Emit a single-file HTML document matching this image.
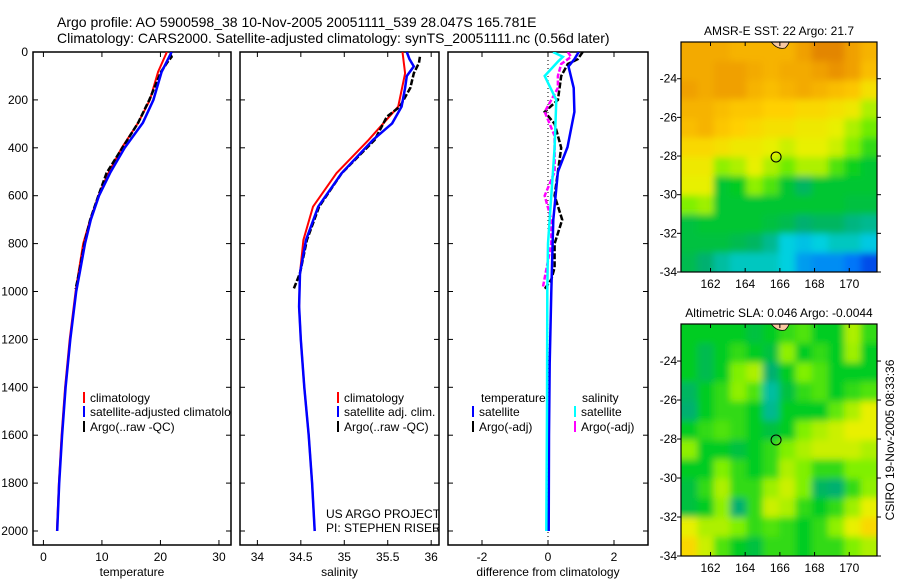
<!DOCTYPE html>
<html><head><meta charset="utf-8"><style>
html,body{margin:0;padding:0;background:#fff;}
svg{display:block;font-family:"Liberation Sans",sans-serif;}
</style></head><body>
<svg id="fig" width="900" height="580" viewBox="0 0 900 580" xmlns="http://www.w3.org/2000/svg">
<defs>
<filter id="soft" x="-5%" y="-5%" width="110%" height="110%"><feGaussianBlur stdDeviation="3.5"/></filter>
</defs>
<rect width="900" height="580" fill="#fff"/>
<text x="57" y="27" font-size="14">Argo profile: AO 5900598_38 10-Nov-2005 20051111_539 28.047S 165.781E</text>
<text x="57" y="43" font-size="14">Climatology: CARS2000. Satellite-adjusted climatology: synTS_20051111.nc (0.56d later)</text>
<g id="plots"></g>
</svg>
<script>
// ---- data ----
const tClimDepth = [0,83,200,295,400,505,600,700,800,922,1000,1200,1400,1600,1800,2000];
const tClim      = [21.1,19.6,18.2,16.2,13.4,11.1,9.4,8.0,6.8,6.0,5.5,4.5,3.7,3.1,2.65,2.3];
const tSatDepth  = [0,83,200,295,400,505,600,700,800,922,1000,1200,1400,1600,1800,2000];
const tSat       = [21.9,20.2,18.8,17.0,13.9,11.4,9.5,8.1,7.1,6.2,5.6,4.6,3.8,3.2,2.7,2.35];
const tArgoDepth = [10,20,42,83,200,295,400,505,600,700,800,922,990];
const tArgo      = [21.7,21.9,21.2,20.1,18.1,16.2,13.5,10.8,9.4,8.0,7.0,6.1,5.5];

const sClimDepth = [0,89,228,367,506,646,785,923,1063,1200,1400,1600,1800,2000];
const sClim      = [35.67,35.70,35.62,35.28,34.91,34.64,34.53,34.49,34.48,34.50,34.54,34.59,34.63,34.66];
const sSatDepth  = [0,30,60,100,150,228,298,367,506,646,785,923,1063,1200,1400,1600,1800,2000];
const sSat       = [35.72,35.75,35.80,35.72,35.70,35.66,35.55,35.33,34.97,34.70,34.56,34.49,34.48,34.50,34.54,34.59,34.63,34.66];
const sArgoDepth = [20,45,89,150,228,270,367,506,646,785,923,987];
const sArgo      = [35.87,35.86,35.80,35.76,35.64,35.49,35.35,34.97,34.71,34.57,34.49,34.42];

const dTSatDepth = [0,30,60,150,250,397,500,700,1000,1300,1600,2000];
const dTSat      = [0.93,0.80,0.62,0.78,0.80,0.59,0.30,0.16,0.10,0.05,0.03,0.02];
const dSSatDepth = [0,20,40,100,200,400,600,800,1000,1500,2000];
const dSSat      = [0.15,0.45,0.30,-0.10,0.25,0.20,0.10,0.00,-0.02,-0.03,-0.05];
const dTArgoDepth= [0,30,50,100,200,250,300,400,500,600,700,800,900,950,990];
const dTArgo     = [1.05,0.90,0.60,0.40,0.30,-0.10,0.20,0.40,0.30,0.20,0.43,0.20,0.20,0.10,-0.10];
const dSArgoDepth= [0,20,50,100,150,250,350,500,600,700,800,980];
const dSArgo     = [0.60,0.70,0.40,0.30,0.30,-0.10,0.20,0.20,-0.10,0.10,0.10,-0.15];

const depthTicks = [0,200,400,600,800,1000,1200,1400,1600,1800,2000];
const tTicks = [0,10,20,30];
const sTicks = [34,34.5,35,35.5,36];
const sTickLabels = ["34","34.5","35","35.5","36"];
const dTicks = [-2,0,2];

// map grids (colormap index 0..1), rows top (north) to bottom (south)
const sstRows = [
 [.78,.78,.78,.76,.76,.76,.76,.80,.84,.84,.80,.76],
 [.78,.78,.80,.80,.78,.76,.78,.78,.80,.82,.80,.74],
 [.80,.78,.80,.80,.76,.74,.76,.78,.76,.74,.72,.66],
 [.76,.76,.74,.72,.72,.70,.70,.68,.68,.66,.64,.58],
 [.74,.76,.72,.70,.68,.66,.66,.64,.64,.62,.58,.54],
 [.68,.68,.66,.64,.64,.62,.60,.62,.62,.60,.55,.50],
 [.64,.64,.56,.58,.62,.58,.54,.58,.58,.52,.48,.46],
 [.62,.62,.46,.47,.56,.52,.46,.43,.46,.46,.46,.46],
 [.55,.57,.46,.46,.46,.46,.46,.46,.46,.46,.45,.45],
 [.45,.46,.46,.46,.46,.45,.44,.42,.43,.43,.41,.40],
 [.45,.45,.45,.44,.43,.40,.35,.33,.35,.37,.37,.34],
 [.44,.42,.39,.37,.37,.37,.35,.28,.26,.26,.23,.16]
];
const slaRows = [
 [.47,.47,.47,.47,.45,.47,.50,.52,.47,.47,.58,.50],
 [.47,.44,.47,.50,.47,.45,.56,.47,.50,.47,.57,.47],
 [.47,.44,.47,.55,.58,.42,.47,.55,.52,.47,.47,.47],
 [.43,.47,.50,.56,.52,.39,.45,.50,.52,.47,.50,.52],
 [.42,.47,.50,.50,.47,.40,.47,.47,.47,.53,.58,.62],
 [.47,.50,.52,.50,.47,.45,.47,.55,.58,.60,.62,.62],
 [.56,.47,.47,.45,.47,.50,.55,.58,.60,.60,.60,.58],
 [.47,.47,.55,.50,.47,.50,.58,.55,.50,.50,.55,.55],
 [.45,.50,.58,.50,.50,.57,.60,.55,.43,.42,.50,.56],
 [.45,.47,.56,.42,.50,.60,.58,.50,.47,.50,.57,.62],
 [.62,.58,.58,.55,.50,.52,.50,.47,.50,.56,.62,.68],
 [.68,.60,.52,.47,.45,.50,.50,.47,.50,.50,.55,.58]
];
const lonTicks = [162,164,166,168,170];
const latTicks = [-24,-26,-28,-30,-32,-34];
const argoLon = 165.781, argoLat = -28.047;

// ---- helpers ----
const NS = "http://www.w3.org/2000/svg";
const root = document.getElementById('plots');
function mk(tag, attrs, parent){ const e=document.createElementNS(NS,tag); for(const k in attrs) e.setAttribute(k,attrs[k]); (parent||root).appendChild(e); return e; }
function txt(x,y,s,size,anchor,parent){ const e=mk('text',{x:x,y:y,'font-size':size||12,'text-anchor':anchor||'start'},parent); e.textContent=s; return e; }

const TOP=52, BOT=545;
function yD(d){ return TOP + d*0.2395; }

function panel(name,x0,x1,vmin,vmax,ticks,labels,xlabel,showY){
  const g=mk('g',{});
  
  
  const sx=v=>x0+(v-vmin)/(vmax-vmin)*(x1-x0);
  const f=mk('rect',{x:x0,y:TOP,width:x1-x0,height:BOT-TOP,fill:'none',stroke:'#000','stroke-width':1.5},g);
  
  
  ticks.forEach((t,i)=>{
    const x=sx(t);
    mk('line',{x1:x,x2:x,y1:TOP,y2:TOP+5,stroke:'#000'},g);
    mk('line',{x1:x,x2:x,y1:BOT,y2:BOT-5,stroke:'#000'},g);
    const l=txt(x,561,labels[i],12,'middle',g);
    
    
  });
  depthTicks.forEach(d=>{
    const y=yD(d);
    mk('line',{x1:x0,x2:x0+5,y1:y,y2:y,stroke:'#000'},g);
    mk('line',{x1:x1,x2:x1-5,y1:y,y2:y,stroke:'#000'},g);
    if(showY){ const l=txt(x0-5,y+4,String(d),12,'end',g);
      
       }
  });
  const xl=txt((x0+x1)/2,576,xlabel,12,'middle',g);
  
  
  const cid='clip'+name;
  const cp=mk('clipPath',{id:cid},g); mk('rect',{x:x0,y:TOP,width:x1-x0,height:BOT-TOP},cp);
  const inner=mk('g',{'clip-path':'url(#'+cid+')'},g);
  return {g,inner,sx};
}
function series(p,name,vals,depths,color,dash,w){
  const pts=vals.map((v,i)=>p.sx(v).toFixed(1)+','+yD(depths[i]).toFixed(1)).join(' ');
  const e=mk('polyline',{points:pts,fill:'none',stroke:color,'stroke-width':w||2,'stroke-dasharray':dash||'none'},p.inner);
  
  
}
function legend(p,x,y,color,label){
  mk('line',{x1:x,x2:x,y1:y-10,y2:y+1,stroke:color,'stroke-width':2},p.inner);
  const t=txt(x+6,y,label,12,'start',p.inner);
  
  
}

// Panel 1 temperature
const p1=panel('temperature-panel',33,231,-1.78,32.06,tTicks,tTicks.map(String),'temperature',true);
series(p1,'temp-climatology-line',tClim,tClimDepth,'#f00');
series(p1,'temp-argo-line',tArgo,tArgoDepth,'#000','6,2',2.5);
series(p1,'temp-satellite-line',tSat,tSatDepth,'#00f',null,2.5);
legend(p1,84,402,'#f00','climatology');
legend(p1,84,416,'#00f','satellite-adjusted climatology');
legend(p1,84,431,'#000','Argo(..raw -QC)');

// Panel 2 salinity
const p2=panel('salinity-panel',240,439,33.80,36.09,sTicks,sTickLabels,'salinity',false);
series(p2,'sal-climatology-line',sClim,sClimDepth,'#f00');
series(p2,'sal-argo-line',sArgo,sArgoDepth,'#000','6,2',2.5);
series(p2,'sal-satellite-line',sSat,sSatDepth,'#00f',null,2.5);
legend(p2,338,402,'#f00','climatology');
legend(p2,338,416,'#00f','satellite adj. clim.');
legend(p2,338,431,'#000','Argo(..raw -QC)');
const c1=txt(326,518,'US ARGO PROJECT',12,'start',p2.inner);


const c2=txt(326,532,'PI: STEPHEN RISER',12,'start',p2.inner);



// Panel 3 difference
const p3=panel('difference-panel',448,648,-3.03,3.03,dTicks,dTicks.map(String),'difference from climatology',false);
const z=mk('line',{x1:p3.sx(0),x2:p3.sx(0),y1:TOP,y2:BOT,stroke:'#000','stroke-dasharray':'1,3'},p3.inner);


series(p3,'dtemp-argo-line',dTArgo,dTArgoDepth,'#000','6,2',2.5);
series(p3,'dsal-argo-line',dSArgo,dSArgoDepth,'#f0f','5,2',2.5);
series(p3,'dtemp-satellite-line',dTSat,dTSatDepth,'#00f',null,2.5);
series(p3,'dsal-satellite-line',dSSat,dSSatDepth,'#0ff',null,2.5);
const lt=txt(481,402,'temperature',12,'start',p3.inner);


const ls=txt(582,402,'salinity',12,'start',p3.inner);


legend(p3,473,416,'#00f','satellite');
legend(p3,473,431,'#000','Argo(-adj)');
legend(p3,575,416,'#0ff','satellite');
legend(p3,575,431,'#f0f','Argo(-adj)');

// ---- maps ----
const stops=[[0,[0,0,143]],[0.2,[0,96,255]],[0.35,[0,208,224]],[0.42,[0,176,112]],[0.47,[0,204,32]],[0.55,[128,240,0]],[0.62,[232,240,0]],[0.7,[255,208,0]],[0.8,[240,160,0]],[0.9,[208,96,0]],[1,[160,40,0]]];
function cmap(v){
  for(let i=1;i<stops.length;i++){ if(v<=stops[i][0]){ const a=stops[i-1],b=stops[i],t=(v-a[0])/(b[0]-a[0]);
    return 'rgb('+a[1].map((c,k)=>Math.round(c+(b[1][k]-c)*t)).join(',')+')'; } }
  return 'rgb(160,40,0)';
}
function map(name,y0,y1,rows,title){
  const x0=681,x1=877, lon0=160.3, lon1=171.6, lat0=-22.1, lat1=-34;
  const g=mk('g',{});
  
  
  const sx=l=>x0+(l-lon0)/(lon1-lon0)*(x1-x0);
  const sy=l=>y0+(l-lat0)/(lat1-lat0)*(y1-y0);
  const cid='mclip'+name;
  const cp=mk('clipPath',{id:cid},g); mk('rect',{x:x0,y:y0,width:x1-x0,height:y1-y0},cp);
  const cg=mk('g',{'clip-path':'url(#'+cid+')'},g);
  const fg=mk('g',{filter:'url(#soft)'},cg);
  const nr=rows.length, nc=rows[0].length, cw=(x1-x0)/nc, ch=(y1-y0)/nr;
  rows.forEach((r,i)=>r.forEach((v,j)=>{
    // extend edge cells outward so blur doesn't fade at frame
    const ex0 = j===0 ? -10 : 0, ex1 = j===nc-1 ? 10 : 0;
    const ey0 = i===0 ? -10 : 0, ey1 = i===nr-1 ? 10 : 0;
    const c=mk('rect',{x:(x0+j*cw+ex0).toFixed(2),y:(y0+i*ch+ey0).toFixed(2),width:(cw+0.6-ex0+ex1).toFixed(2),height:(ch+0.6-ey0+ey1).toFixed(2),fill:cmap(v)},fg);
    
    
  }));
  // island
  mk('path',{d:'M'+(sx(165.5))+','+y0+' q6,8 14,6 q3,-3 4,-6 z',fill:'#f8c8a0',stroke:'#000','stroke-width':0.8},cg);
  mk('rect',{x:x0,y:y0,width:x1-x0,height:y1-y0,fill:'none',stroke:'#000','stroke-width':1.2},g);
  lonTicks.forEach(l=>{ const x=sx(l);
    mk('line',{x1:x,x2:x,y1:y1,y2:y1-4,stroke:'#000'},g); mk('line',{x1:x,x2:x,y1:y0,y2:y0+4,stroke:'#000'},g);
    const t=txt(x,y1+16,String(l),12,'middle',g);
    
     });
  latTicks.forEach(l=>{ const y=sy(l);
    mk('line',{x1:x0,x2:x0-4,y1:y,y2:y,stroke:'#000'},g); mk('line',{x1:x1,x2:x1+4,y1:y,y2:y,stroke:'#000'},g);
    const t=txt(x0-4,y+4,String(l),12,'end',g);
    
     });
  const m=mk('circle',{cx:sx(argoLon),cy:sy(argoLat),r:5,fill:'none',stroke:'#000','stroke-width':1},g);
  
  
  const tt=txt(779,y0-7,title,12,'middle',g);
  
  
}
map('sst-map',42,272,sstRows,'AMSR-E SST: 22 Argo: 21.7');
map('sla-map',324,556,slaRows,'Altimetric SLA: 0.046 Argo: -0.0044');
const st=txt(0,0,'CSIRO 19-Nov-2005 08:33:36',12,'middle');
st.setAttribute('transform','translate(894,440) rotate(-90)');


</script>
</body></html>
